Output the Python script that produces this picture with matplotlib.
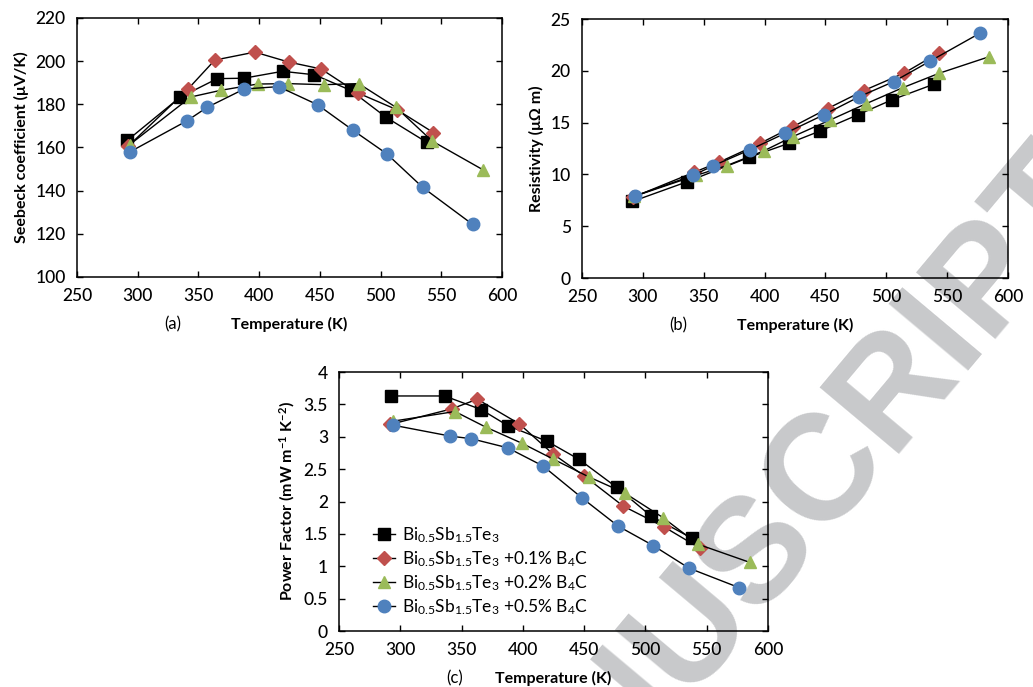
#!/usr/bin/env python3
"""Seebeck coefficient, resistivity and power factor of Bi0.5Sb1.5Te3 + B4C."""

import matplotlib
matplotlib.use("Agg")
import matplotlib.pyplot as plt

# ---- data ----
labels = [
    r"Bi$_{0.5}$Sb$_{1.5}$Te$_3$",
    r"Bi$_{0.5}$Sb$_{1.5}$Te$_3$ +0.1% B$_4$C",
    r"Bi$_{0.5}$Sb$_{1.5}$Te$_3$ +0.2% B$_4$C",
    r"Bi$_{0.5}$Sb$_{1.5}$Te$_3$ +0.5% B$_4$C",
]

# Seebeck (a)
seebeck_t0 = [291.5, 334.7, 365.5, 387.5, 419.3, 445.5, 475.4, 504.6, 538.1]
seebeck_s0 = [163.3, 183.2, 191.9, 192.1, 195.3, 193.7, 186.5, 174.0, 162.4]
seebeck_t1 = [292.0, 341.8, 363.5, 396.5, 424.3, 451.0, 481.2, 513.9, 543.6]
seebeck_s1 = [160.5, 187.3, 200.5, 204.2, 199.6, 196.4, 185.3, 177.4, 166.9]
seebeck_t2 = [293.4, 343.7, 368.5, 398.7, 423.7, 453.4, 482.0, 512.8, 542.5, 584.3]
seebeck_s2 = [161.3, 183.4, 186.5, 189.4, 189.6, 189.1, 189.6, 178.6, 163.0, 149.7]
seebeck_t5 = [293.4, 340.4, 357.2, 387.7, 416.0, 448.2, 477.3, 505.1, 534.8, 575.8]
seebeck_s5 = [157.9, 172.3, 178.6, 187.1, 188.2, 179.8, 168.0, 157.1, 141.5, 124.4]

# Resistivity (b)
resist_t0 = [291.4, 336.3, 387.5, 420.1, 445.8, 476.5, 505.0, 538.9]
resist_r0 = [7.39, 9.29, 11.66, 13.01, 14.20, 15.75, 17.22, 18.70]
resist_t1 = [292.0, 341.7, 362.6, 396.5, 423.4, 451.8, 481.4, 514.3, 543.3]
resist_r1 = [7.80, 10.19, 11.18, 13.01, 14.62, 16.36, 18.09, 19.76, 21.75]
resist_t2 = [292.5, 343.7, 369.1, 399.3, 423.4, 454.0, 483.1, 513.7, 543.3, 584.7]
resist_r2 = [7.87, 9.90, 10.86, 12.27, 13.66, 15.26, 16.81, 18.38, 19.76, 21.37]
resist_t5 = [293.8, 341.2, 357.6, 387.8, 417.1, 448.6, 477.9, 506.1, 536.2, 576.7]
resist_r5 = [7.94, 9.90, 10.83, 12.37, 13.98, 15.75, 17.51, 18.96, 20.95, 23.62]

# Power factor (c)
pf_t0 = [292.1, 336.1, 366.0, 387.8, 419.8, 445.9, 476.4, 504.9, 538.3]
pf_p0 = [3.63, 3.63, 3.42, 3.17, 2.93, 2.65, 2.22, 1.77, 1.43]
pf_t1 = [291.6, 341.8, 362.8, 397.0, 424.2, 449.7, 481.8, 515.0, 544.3]
pf_p1 = [3.19, 3.43, 3.58, 3.20, 2.74, 2.40, 1.93, 1.61, 1.28]
pf_t2 = [293.8, 344.6, 369.6, 399.2, 424.2, 453.8, 483.2, 514.4, 542.9, 585.1]
pf_p2 = [3.24, 3.39, 3.15, 2.90, 2.66, 2.38, 2.13, 1.75, 1.34, 1.06]
pf_t5 = [293.8, 340.8, 357.9, 387.5, 416.3, 448.6, 477.7, 506.3, 535.6, 576.4]
pf_p5 = [3.18, 3.01, 2.97, 2.83, 2.55, 2.05, 1.62, 1.32, 0.97, 0.67]

pf_ticks = [0, 0.5, 1, 1.5, 2, 2.5, 3, 3.5, 4]
pf_tick_labels = ["0", "0.5", "1", "1.5", "2", "2.5", "3", "3.5", "4"]

# ---- style ----
FONT = ["Lato", "DejaVu Sans"]
plt.rcParams["font.family"] = FONT
plt.rcParams["mathtext.fontset"] = "custom"
plt.rcParams["mathtext.rm"] = "Lato"
plt.rcParams["mathtext.it"] = "Lato:italic"
plt.rcParams["mathtext.bf"] = "Lato:bold"

STYLES = [
    dict(marker="s", color="#000000", ms=8.5),
    dict(marker="D", color="#C0504D", ms=7),
    dict(marker="^", color="#9BBB59", ms=9),
    dict(marker="o", color="#4F81BD", ms=9),
]


def _plot_series(ax, series):
    handles = []
    for (xs, ys), style, label in zip(series, STYLES, labels):
        (line,) = ax.plot(
            xs, ys,
            color="black", linewidth=1.0,
            marker=style["marker"], markersize=style["ms"],
            markerfacecolor=style["color"], markeredgecolor=style["color"],
            label=label,
        )
        handles.append(line)
    return handles


def _style_axes(ax, ylim, yticks, ylabel, tag_x, tag):
    ax.set_facecolor("none")
    ax.set_xlim(250, 600)
    ax.set_xticks(range(250, 601, 50))
    ax.set_ylim(*ylim)
    ax.set_yticks(yticks)
    ax.tick_params(direction="in", top=True, right=True, length=4.5,
                   width=1.0, labelsize=12.5, pad=8)
    for label in ax.get_xticklabels() + ax.get_yticklabels():
        label.set_fontweight("medium")
    for spine in ax.spines.values():
        spine.set_linewidth(1.1)
    ax.set_ylabel(ylabel, fontsize=11.5, fontweight="bold", labelpad=5)
    ax.set_xlabel("Temperature (K)", fontsize=11.5, fontweight="bold", labelpad=9)
    ax.text(tag_x, -0.182, tag, transform=ax.transAxes, fontsize=12,
            ha="center", va="center")


def main():
    fig = plt.figure(figsize=(10.33, 6.87), dpi=100)

    # watermark of the source page
    fig.text(0.733, 0.2, "MANUSCRIPT", fontsize=108, fontweight="bold",
             color="#c8c9cb", rotation=50, ha="center", va="center",
             family=["Liberation Sans", "DejaVu Sans"], zorder=-1)

    ax_a = fig.add_axes([0.0745, 0.5968, 0.4114, 0.377])
    ax_b = fig.add_axes([0.5634, 0.5953, 0.4124, 0.377])
    ax_c = fig.add_axes([0.3282, 0.0815, 0.4153, 0.377])

    _plot_series(ax_a, [(seebeck_t0, seebeck_s0), (seebeck_t1, seebeck_s1),
                        (seebeck_t2, seebeck_s2), (seebeck_t5, seebeck_s5)])
    _style_axes(ax_a, (100, 220), range(100, 221, 20),
                "Seebeck coefficient (\u03bcV/K)", 0.225, "(a)")

    _plot_series(ax_b, [(resist_t0, resist_r0), (resist_t1, resist_r1),
                        (resist_t2, resist_r2), (resist_t5, resist_r5)])
    _style_axes(ax_b, (0, 25), range(0, 26, 5),
                "Resistivity (\u03bc\u03a9 m)", 0.225, "(b)")

    handles = _plot_series(ax_c, [(pf_t0, pf_p0), (pf_t1, pf_p1),
                                  (pf_t2, pf_p2), (pf_t5, pf_p5)])
    _style_axes(ax_c, (0, 4), pf_ticks,
                r"Power Factor (mW m$^{\mathbf{-1}}$ K$^{\mathbf{-2}}$)", 0.27, "(c)")
    ax_c.set_yticklabels(pf_tick_labels, fontweight="medium")

    ax_c.legend(handles=handles, loc="upper left", bbox_to_anchor=(0.05, 0.455),
                frameon=False, fontsize=12.5, handlelength=1.3, handletextpad=0.4,
                labelspacing=0.25, borderpad=0.2)

    fig.savefig("out.png", dpi=100)
    plt.close(fig)


if __name__ == "__main__":
    main()
